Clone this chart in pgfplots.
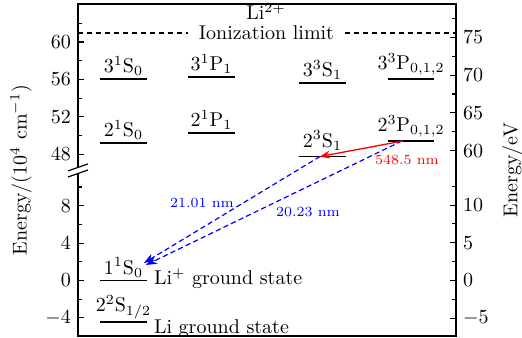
\documentclass[border=0pt]{standalone}
\usepackage{pgfplots}
\pgfplotsset{compat=1.18}
\usetikzlibrary{arrows.meta}
\pgfplotsset{
  lvl/.style={black, line width=0.8pt, forget plot},
  frame/.style={scale only axis, width=189pt, height=166pt,
    xmin=0, xmax=378, ymin=-5.94, ymax=29.57,
    tick align=inside, major tick length=3pt, minor tick length=2pt,
    axis line style={line width=0.7pt},
    tick style={line width=0.55pt, black},
    clip=false},
}
% Broken energy axis: values >= 46.5 (x10^4 cm^-1) are drawn at value - 34.5
\begin{document}
\begin{tikzpicture}
\begin{axis}[frame, name=main,
  xtick=\empty,
  ytick pos=left,
  ytick={-4,0,4,8,13.5,17.5,21.5,25.5},
  yticklabels={$-4$,$0$,$4$,$8$,$48$,$52$,$56$,$60$},
  minor ytick={-2,2,6,10,15.5,19.5,23.5,27.5},
  ylabel={Energy/(10$^4$ cm$^{-1}$)},
]
% levels (upper ones: plotted value = energy - 34.5)
\addplot[lvl] coordinates {(22,21.55) (69,21.55)};   % 3^1S_0   56.05
\addplot[lvl] coordinates {(110,21.76) (157,21.76)}; % 3^1P_1   56.26
\addplot[lvl] coordinates {(22,14.71) (69,14.71)};   % 2^1S_0   49.21
\addplot[lvl] coordinates {(110,15.78) (157,15.78)}; % 2^1P_1   50.28
\addplot[lvl] coordinates {(221,21.12) (268,21.12)}; % 3^3S_1   55.62
\addplot[lvl] coordinates {(310,21.55) (356,21.55)}; % 3^3P     56.05
\addplot[lvl] coordinates {(221,13.26) (268,13.26)}; % 2^3S_1   47.76
\addplot[lvl] coordinates {(310,14.92) (356,14.92)}; % 2^3P     49.42
\addplot[lvl] coordinates {(22,0) (69,0)};           % 1^1S_0   0
\addplot[lvl] coordinates {(22,-4.44) (69,-4.44)};   % 2^2S_1/2 -4.44
% ionization limit 60.97
\addplot[black, line width=0.6pt, dash pattern=on 2.6pt off 1.9pt, forget plot] coordinates {(0,26.47) (110,26.47)};
\addplot[black, line width=0.6pt, dash pattern=on 2.6pt off 1.9pt, forget plot] coordinates {(267,26.47) (378,26.47)};
% transitions
\addplot[blue, line width=0.6pt, dash pattern=on 2.6pt off 1.6pt, -{Stealth[length=5.5pt,width=4pt]}, forget plot] coordinates {(242,13.26) (66,1.87)};
\addplot[blue, line width=0.6pt, dash pattern=on 2.6pt off 1.6pt, -{Stealth[length=5.5pt,width=4pt]}, forget plot] coordinates {(324,14.92) (68,1.66)};
\addplot[red, line width=0.65pt, -{Stealth[length=5pt,width=4pt]}, forget plot] coordinates {(325,14.92) (242,13.26)};

% labels
\node[anchor=south, inner sep=1.5pt] at (axis cs:45.5,21.55) {3$^1$S$_0$};
\node[anchor=south, inner sep=1.5pt] at (axis cs:133.5,21.76) {3$^1$P$_1$};
\node[anchor=south, inner sep=1.5pt] at (axis cs:45.5,14.71) {2$^1$S$_0$};
\node[anchor=south, inner sep=1.5pt] at (axis cs:133.5,15.78) {2$^1$P$_1$};
\node[anchor=south, inner sep=1.5pt] at (axis cs:244.5,21.12) {3$^3$S$_1$};
\node[anchor=south, inner sep=1.5pt] at (axis cs:333,21.55) {3$^3$P$_{0,1,2}$};
\node[anchor=south, inner sep=1.5pt, yshift=1.5pt] at (axis cs:244.5,13.26) {2$^3$S$_1$};
\node[anchor=south, inner sep=1.5pt] at (axis cs:333,14.92) {2$^3$P$_{0,1,2}$};
\node[anchor=south, inner sep=1.5pt] at (axis cs:45.5,0) {1$^1$S$_0$};
\node[anchor=south, inner sep=1.5pt] at (axis cs:45.5,-4.44) {2$^2$S$_{1/2}$};
\node[anchor=base west, inner sep=3.3pt, yshift=-2.25pt] at (axis cs:69,0) {Li$^+$ ground state};
\node[anchor=base west, inner sep=3.3pt, yshift=-6pt] at (axis cs:69,-4.44) {Li ground state};
\node[anchor=base, inner sep=0pt] at (axis cs:188.5,25.72) {Ionization limit};
\node[anchor=base, inner sep=0pt] at (axis cs:188,27.86) {Li$^{2+}$};
\node[blue, font=\scriptsize] at (axis cs:124,8.29) {21.01 nm};
\node[blue, font=\scriptsize] at (axis cs:230,7.33) {20.23 nm};
\node[red, font=\scriptsize] at (axis cs:329,12.89) {548.5 nm};

\coordinate (brA) at (axis cs:0,11.44);
\coordinate (brB) at (axis cs:0,12.09);
\end{axis}
\begin{axis}[frame,
  axis x line=none, axis y line*=right,
  ytick={-4.0328,0,4.0328,8.0655,13.893,17.926,21.959,25.992},
  yticklabels={$-5$,$0$,$5$,$10$,$60$,$65$,$70$,$75$},
  minor ytick={-2.0164,2.0164,6.0492,10.082,15.91,19.94,23.98,28.01},
  ylabel={Energy/eV},
]
\end{axis}
\fill[white] ([xshift=-1.2pt]brA) rectangle ([xshift=1.2pt]brB);
\draw[line width=0.6pt] ([shift={(-5pt,-1.75pt)}]brA) -- ([shift={(5pt,1.75pt)}]brA);
\draw[line width=0.6pt] ([shift={(-5pt,-1.75pt)}]brB) -- ([shift={(5pt,1.75pt)}]brB);
\pgfresetboundingbox
\path ([shift={(-39pt,-0.5pt)}]main.south west) rectangle ([shift={(33pt,2pt)}]main.north east);
\end{tikzpicture}
\end{document}
